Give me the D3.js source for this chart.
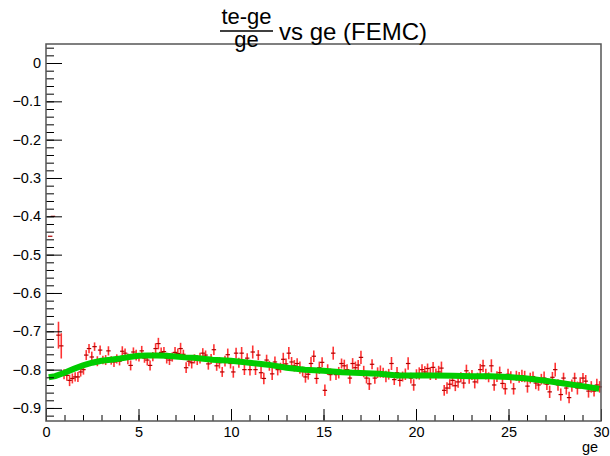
<!DOCTYPE html>
<html><head><meta charset="utf-8">
<script src="https://cdn.jsdelivr.net/npm/d3@7"></script>
<style>body{margin:0;background:#fff}svg{display:block}text{font-family:"Liberation Sans",Arial,Helvetica,sans-serif}</style>
</head><body><svg id="c" width="610" height="456"></svg>
<script>
// ---- data ----
const binStart = 0, binWidth = 0.15; // histogram bins over ge in [0,30]
const profileValues = [
 null, -0.452, -0.400, null, -0.710, -0.738, -0.812, -0.815, -0.828, -0.823,
 -0.819, -0.819, -0.806, -0.800, -0.762, -0.745, -0.767, -0.740, -0.778, -0.749,
 -0.775, -0.775, -0.751, -0.776, -0.780, -0.772, -0.778, -0.752, -0.757, -0.772,
 -0.789, -0.754, -0.762, -0.768, -0.751, -0.770, -0.775, -0.789, -0.766, -0.745,
 -0.732, -0.755, -0.753, -0.770, -0.775, -0.767, -0.755, -0.758, -0.745, -0.760,
 -0.795, -0.778, -0.782, -0.772, -0.775, -0.770, -0.757, -0.762, -0.785, -0.772,
 -0.748, -0.790, -0.782, -0.806, -0.778, -0.761, -0.784, -0.806, -0.757, -0.782,
 -0.757, -0.800, -0.770, -0.800, -0.754, -0.800, -0.762, -0.808, -0.823, -0.775,
 -0.790, -0.811, -0.780, -0.800, -0.795, -0.773, -0.785, -0.757, -0.780, -0.790,
 -0.784, -0.795, -0.805, -0.819, -0.812, -0.784, -0.765, -0.823, -0.795, -0.781,
 -0.854, -0.800, -0.813, -0.757, -0.813, -0.808, -0.784, -0.790, -0.800, -0.822,
 -0.784, -0.795, -0.788, -0.768, -0.805, -0.822, -0.837, -0.786, -0.822, -0.808,
 -0.805, -0.808, -0.818, -0.812, -0.784, -0.826, -0.808, -0.828, -0.818, -0.812,
 -0.784, -0.822, -0.840, -0.812, -0.810, -0.800, -0.806, -0.797, -0.810, -0.794,
 -0.812, -0.806, -0.796, -0.854, -0.848, -0.838, -0.828, -0.842, -0.832, -0.820,
 -0.835, -0.803, -0.822, -0.814, -0.832, -0.822, -0.800, -0.790, -0.812, -0.820,
 -0.790, -0.840, -0.818, -0.808, -0.836, -0.850, -0.812, -0.820, -0.850, -0.816,
 -0.820, -0.816, -0.818, -0.843, -0.822, -0.818, -0.835, -0.840, -0.825, -0.822,
 -0.838, -0.858, -0.820, -0.800, -0.840, -0.865, -0.822, -0.848, -0.873, -0.842,
 -0.822, -0.848, -0.835, -0.822, -0.830, -0.856, -0.845, -0.856, -0.840, -0.845
];
const profileErrors = [
 null, 0, 0, null, 0.035, 0.033, 0.013, 0.014, 0.015, 0.013,
 0.012, 0.013, 0.012, 0.013, 0.013, 0.012, 0.014, 0.011, 0.013, 0.012,
 0.011, 0.013, 0.012, 0.011, 0.013, 0.012, 0.011, 0.013, 0.012, 0.014,
 0.013, 0.012, 0.014, 0.011, 0.013, 0.012, 0.014, 0.013, 0.012, 0.014,
 0.015, 0.013, 0.012, 0.014, 0.013, 0.012, 0.014, 0.013, 0.015, 0.012,
 0.014, 0.013, 0.015, 0.012, 0.013, 0.014, 0.013, 0.012, 0.015, 0.013,
 0.014, 0.013, 0.015, 0.013, 0.014, 0.016, 0.013, 0.015, 0.014, 0.013,
 0.016, 0.014, 0.013, 0.015, 0.017, 0.014, 0.013, 0.016, 0.015, 0.014,
 0.013, 0.016, 0.014, 0.015, 0.013, 0.017, 0.014, 0.016, 0.013, 0.015,
 0.014, 0.016, 0.013, 0.015, 0.014, 0.017, 0.015, 0.014, 0.016, 0.013,
 0.015, 0.014, 0.016, 0.017, 0.014, 0.015, 0.013, 0.016, 0.014, 0.015,
 0.014, 0.016, 0.013, 0.017, 0.015, 0.014, 0.016, 0.013, 0.015, 0.014,
 0.016, 0.013, 0.015, 0.014, 0.017, 0.014, 0.015, 0.016, 0.013, 0.015,
 0.016, 0.014, 0.015, 0.013, 0.016, 0.014, 0.015, 0.013, 0.017, 0.014,
 0.015, 0.016, 0.017, 0.014, 0.015, 0.013, 0.016, 0.014, 0.015, 0.013,
 0.014, 0.016, 0.015, 0.013, 0.017, 0.014, 0.015, 0.016, 0.014, 0.013,
 0.017, 0.015, 0.014, 0.016, 0.013, 0.015, 0.014, 0.016, 0.015, 0.013,
 0.014, 0.016, 0.015, 0.017, 0.014, 0.013, 0.016, 0.015, 0.014, 0.017,
 0.015, 0.016, 0.014, 0.018, 0.015, 0.016, 0.014, 0.017, 0.015, 0.016,
 0.014, 0.017, 0.015, 0.013, 0.016, 0.017, 0.015, 0.014, 0.016, 0.015
];
const fitX = [0.15, 0.5, 1, 1.5, 2, 2.5, 3, 3.5, 4, 4.5, 5, 5.5, 6, 6.5, 7, 7.5, 8, 9, 10, 11, 12, 13, 14, 15, 16, 17, 18, 19, 20, 21, 22, 23, 24, 25, 26, 27, 28, 29, 29.9];
const fitY = [-0.820, -0.817, -0.808, -0.798, -0.789, -0.782, -0.777, -0.774, -0.771, -0.767, -0.764, -0.763, -0.763, -0.764, -0.766, -0.768, -0.769, -0.774, -0.777, -0.782, -0.787, -0.795, -0.800, -0.803, -0.807, -0.809, -0.811, -0.815, -0.815, -0.815, -0.816, -0.817, -0.817, -0.819, -0.823, -0.829, -0.836, -0.843, -0.850];
const xMajorTicks = [0, 5, 10, 15, 20, 25, 30];
const yMajorTicks = [0, -0.1, -0.2, -0.3, -0.4, -0.5, -0.6, -0.7, -0.8, -0.9];
const titleNum = "te-ge", titleDen = "ge", titleRest = "vs ge (FEMC)", xTitle = "ge";

// ---- layout ----
const L = 46, R = 601, T = 44, B = 421;
const svg = d3.select("#c");
const x = d3.scaleLinear().domain([0, 30]).range([L, R]);
const y = d3.scaleLinear().domain([-0.934, 0.0496]).range([B, T]);

const pts = profileValues.map((v, i) => ({x: binStart + binWidth * (i + 0.5), v, e: profileErrors[i]})).filter(d => d.v !== null);

// error bars
const g = svg.append("g");
g.selectAll("line.ev").data(pts).join("line")
  .attr("x1", d => x(d.x)).attr("x2", d => x(d.x))
  .attr("y1", d => y(d.v - d.e)).attr("y2", d => y(d.v + d.e))
  .attr("stroke", "#ff0000").attr("stroke-opacity", 0.8).attr("stroke-width", 1.6);
g.selectAll("line.eh").data(pts).join("line")
  .attr("x1", d => x(d.x - 0.12)).attr("x2", d => x(d.x + 0.12))
  .attr("y1", d => y(d.v)).attr("y2", d => y(d.v))
  .attr("stroke", "#b00000").attr("stroke-width", 1.2);

// green curve
svg.append("path").datum(fitX.map((v, i) => [v, fitY[i]]))
  .attr("d", d3.line().x(d => x(d[0])).y(d => y(d[1])))
  .attr("fill", "none").attr("stroke", "#00cc00").attr("stroke-width", 6);

// axes: inward ticks
const yMinor = d3.range(-0.92, 0.05, 0.02).filter(v => v > -0.934 && v < 0.0496);
svg.append("g").attr("transform", `translate(${L},0)`)
  .call(d3.axisRight(y).tickValues(yMinor).tickSize(8).tickFormat(""))
  .call(a => a.select(".domain").remove());
svg.append("g").attr("transform", `translate(${L},0)`)
  .call(d3.axisRight(y).tickValues(yMajorTicks).tickSize(16).tickFormat(""))
  .call(a => a.select(".domain").remove());
svg.append("g").attr("transform", `translate(${L},0)`)
  .call(d3.axisLeft(y).tickValues(yMajorTicks).tickSize(0).tickPadding(5).tickFormat(d3.format(".1~f")))
  .call(a => a.select(".domain").remove())
  .call(a => a.selectAll("text").attr("font-size", 14.5).attr("fill", "#000"));

const xMinor = d3.range(0, 31, 1);
svg.append("g").attr("transform", `translate(0,${B})`)
  .call(d3.axisTop(x).tickValues(xMinor).tickSize(6).tickFormat(""))
  .call(a => a.select(".domain").remove());
svg.append("g").attr("transform", `translate(0,${B})`)
  .call(d3.axisTop(x).tickValues(xMajorTicks).tickSize(12).tickFormat(""))
  .call(a => a.select(".domain").remove());
svg.append("g").attr("transform", `translate(0,${B})`)
  .call(d3.axisBottom(x).tickValues(xMajorTicks).tickSize(0).tickPadding(6).tickFormat(d3.format("d")))
  .call(a => a.select(".domain").remove())
  .call(a => a.selectAll("text").attr("font-size", 14.5).attr("fill", "#000"));

// frame
svg.append("rect").attr("x", L).attr("y", T).attr("width", R - L).attr("height", B - T)
  .attr("fill", "none").attr("stroke", "#555").attr("stroke-width", 1.5);

// titles
svg.append("text").attr("x", 590).attr("y", 452).attr("text-anchor", "middle").attr("font-size", 14.5).text(xTitle);
const cx = 246.5;
svg.append("text").attr("x", cx).attr("y", 24).attr("text-anchor", "middle").attr("font-size", 22).text(titleNum);
svg.append("line").attr("x1", 220).attr("x2", 273).attr("y1", 31).attr("y2", 31).attr("stroke", "#000").attr("stroke-width", 1.5);
svg.append("text").attr("x", cx).attr("y", 47).attr("text-anchor", "middle").attr("font-size", 22).text(titleDen);
svg.append("text").attr("x", 279).attr("y", 40).attr("font-size", 24).text(titleRest);
</script></body></html>
